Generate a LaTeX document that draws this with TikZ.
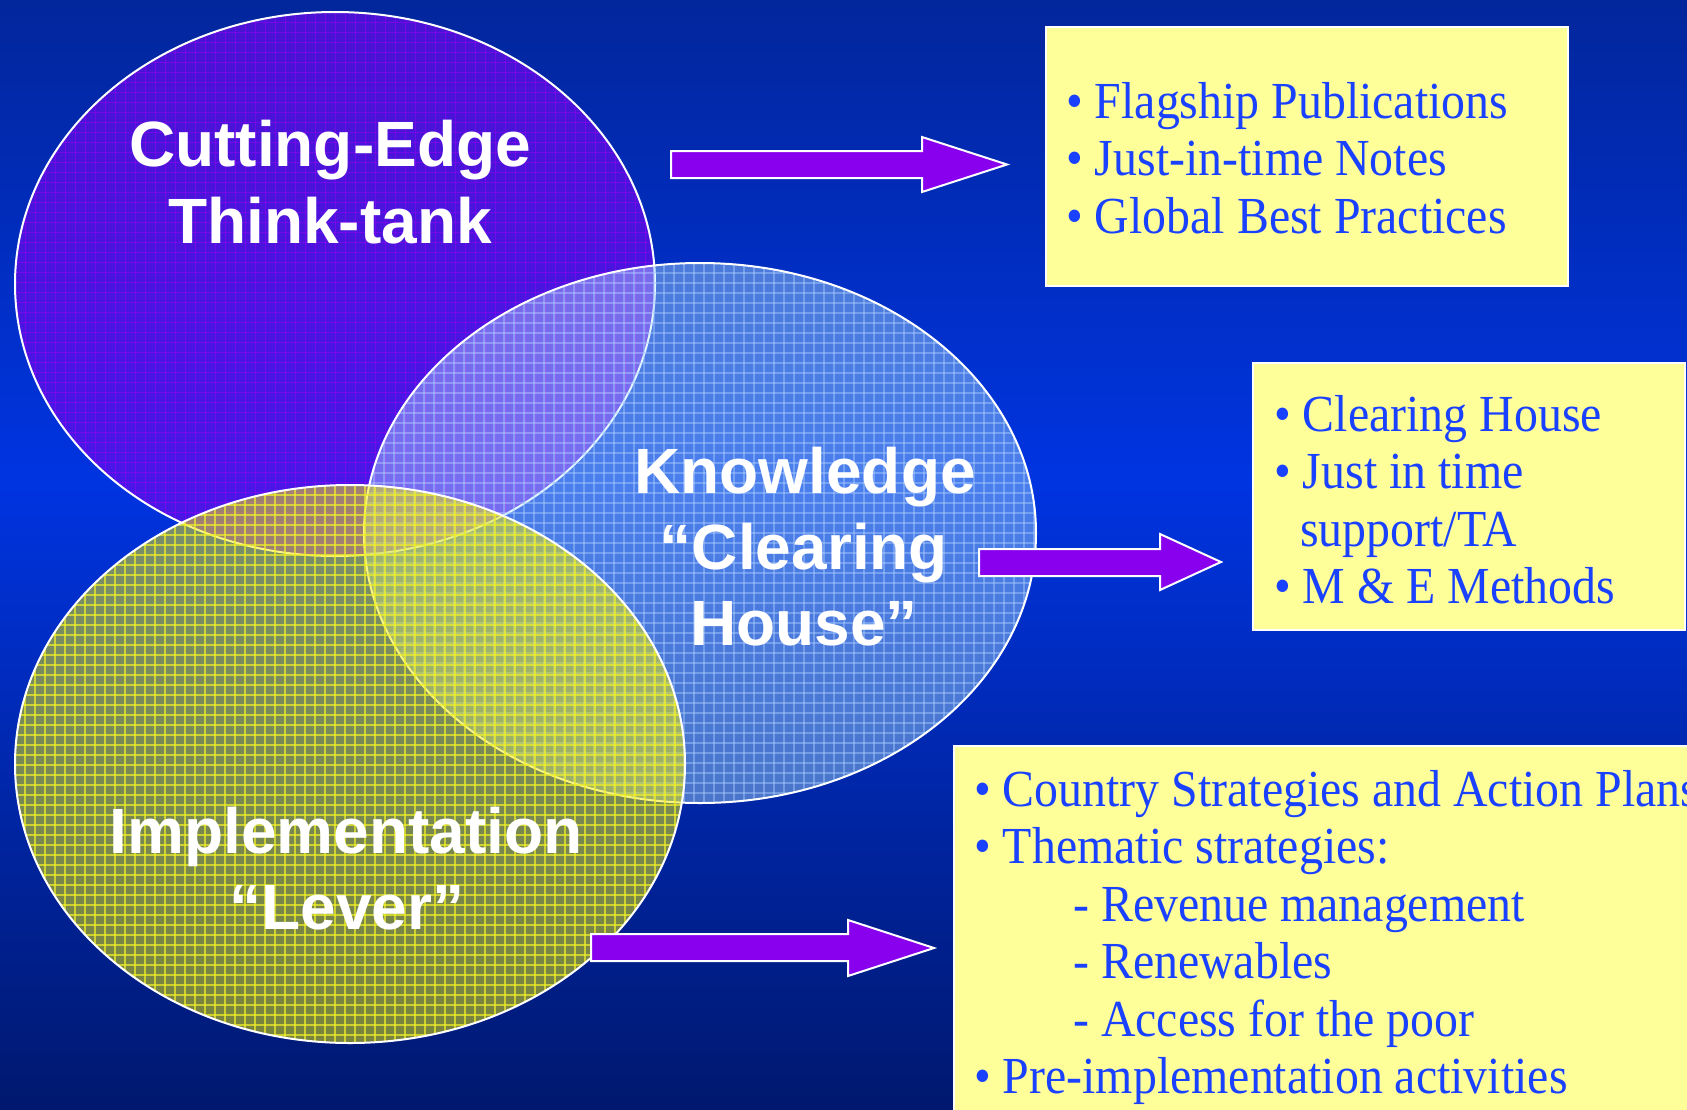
\documentclass[tikz,border=0pt]{standalone}
\usepackage{fontspec}
\newfontfamily\titlefont{Liberation Sans}
\newfontfamily\boxfont[FakeStretch=0.92]{Liberation Serif}
\definecolor{bgtop}{RGB}{2,38,155}
\definecolor{bgmid}{RGB}{0,52,225}
\definecolor{bgbot}{RGB}{0,24,110}
\definecolor{eonefill}{RGB}{105,10,235}
\definecolor{eonegrid}{RGB}{150,0,245}
\definecolor{etwofill}{RGB}{187,237,255}
\definecolor{etwogrid}{RGB}{170,205,255}
\definecolor{ethreefill}{RGB}{240,235,0}
\definecolor{ethreegrid}{RGB}{240,240,40}
\definecolor{boxfill}{RGB}{255,255,153}
\definecolor{txtblue}{RGB}{25,65,255}
\definecolor{arrowfill}{RGB}{137,0,238}
\tikzset{
  title/.style={font=\titlefont\bfseries\fontsize{64}{64}\selectfont, text=white, inner sep=0pt, anchor=base},
  boxtext/.style={font=\boxfont\fontsize{52}{57.5}\selectfont, text=txtblue, inner sep=0pt, anchor=base west},
  boxst/.style={fill=boxfill, draw=white, line width=1.5pt},
  arrowst/.style={fill=arrowfill, draw=white, line width=2pt, line join=miter},
  outline/.style={draw=white, line width=2pt},
}
\begin{document}
\begin{tikzpicture}[x=1pt,y=-1pt]
\useasboundingbox (0,0) rectangle (1687,1109);
\clip (0,0) rectangle (1687,1109);
% background
\shade[top color=bgtop,bottom color=bgmid] (0,-1) rectangle (1687,481);
\shade[top color=bgmid,bottom color=bgbot] (0,480) rectangle (1687,1110);

% Ellipse 1: Cutting-Edge Think-tank
\fill[eonefill, opacity=0.7] (335,284) ellipse [x radius=320pt, y radius=272pt];
\begin{scope}
  \clip (335,284) ellipse [x radius=320pt, y radius=272pt];
  \foreach \gx in {15,25,...,655} \draw[eonegrid, line width=1pt, opacity=0.55] (\gx,10) -- (\gx,560);
  \foreach \gy in {12,22,...,556} \draw[eonegrid, line width=1pt, opacity=0.55] (10,\gy) -- (660,\gy);
\end{scope}
\draw[outline] (335,284) ellipse [x radius=320pt, y radius=272pt];

% Ellipse 2: Knowledge Clearing House
\fill[etwofill, opacity=0.4] (700,533) ellipse [x radius=336pt, y radius=270pt];
\begin{scope}
  \clip (700,533) ellipse [x radius=336pt, y radius=270pt];
  \foreach \gx in {364,374,...,1036} \draw[etwogrid, line width=1.1pt, opacity=0.45] (\gx,260) -- (\gx,806);
  \foreach \gy in {263,273,...,803} \draw[etwogrid, line width=1.1pt, opacity=0.45] (360,\gy) -- (1040,\gy);
\end{scope}
\draw[outline] (700,533) ellipse [x radius=336pt, y radius=270pt];

% Ellipse 3: Implementation Lever
\fill[ethreefill, opacity=0.5] (350,764) ellipse [x radius=335pt, y radius=279pt];
\begin{scope}
  \clip (350,764) ellipse [x radius=335pt, y radius=279pt];
  \foreach \gx in {15,25,...,685} \draw[ethreegrid, line width=1.2pt, opacity=0.7] (\gx,480) -- (\gx,1050);
  \foreach \gy in {485,495,...,1043} \draw[ethreegrid, line width=1.2pt, opacity=0.7] (10,\gy) -- (690,\gy);
\end{scope}
\draw[outline] (350,764) ellipse [x radius=335pt, y radius=279pt];

% Ellipse labels
\node[title] (ce) at (330,166) {Cutting-Edge};
\node[title] (tt) at (330,243) {Think-tank};
\node[title] (kn) at (805,493) {Knowledge};
\node[title] (cl) at (804,569) {“Clearing};
\node[title] (ho) at (804,645) {House”};
\node[title] (im) at (346,853) {Implementation};
\node[title] (lv) at (347,929) {“Lever”};

% Arrows
\draw[arrowst] (671,151) -- (922,151) -- (922,137) -- (1007,164.5) -- (922,192) -- (922,178) -- (671,178) -- cycle;
\draw[arrowst] (979,549) -- (1160,549) -- (1160,534) -- (1221,562) -- (1160,590) -- (1160,576) -- (979,576) -- cycle;
\draw[arrowst] (591,934) -- (848,934) -- (848,920) -- (934,948) -- (848,976) -- (848,961) -- (591,961) -- cycle;

% Boxes
\draw[boxst] (1046,27) rectangle (1568,286);
\draw[boxst] (1253,363) rectangle (1685,630);
\draw[boxst] (954,746) rectangle (1710,1130);

% Box 1 text
\node[boxtext] (a1) at (1066,118) {• Flagship Publications};
\node[boxtext] (a2) at (1066,175.5) {• Just-in-time Notes};
\node[boxtext] (a3) at (1066,233) {• Global Best Practices};

% Box 2 text
\node[boxtext] (b1) at (1274,431) {• Clearing House};
\node[boxtext] (b2) at (1274,488.5) {• Just in time};
\node[boxtext] (b3) at (1300,546) {support/TA};
\node[boxtext] (b4) at (1274,603.5) {• M \& E Methods};

% Box 3 text
\node[boxtext] (c1) at (974,806) {• Country Strategies and Action Plans};
\node[boxtext] (c2) at (974,863.5) {• Thematic strategies:};
\node[boxtext] (c3) at (1073,921) {- Revenue management};
\node[boxtext] (c4) at (1073,978.5) {- Renewables};
\node[boxtext] (c5) at (1073,1036) {- Access for the poor};
\node[boxtext] (c6) at (974,1093.5) {• Pre-implementation activities};
\end{tikzpicture}
\end{document}
